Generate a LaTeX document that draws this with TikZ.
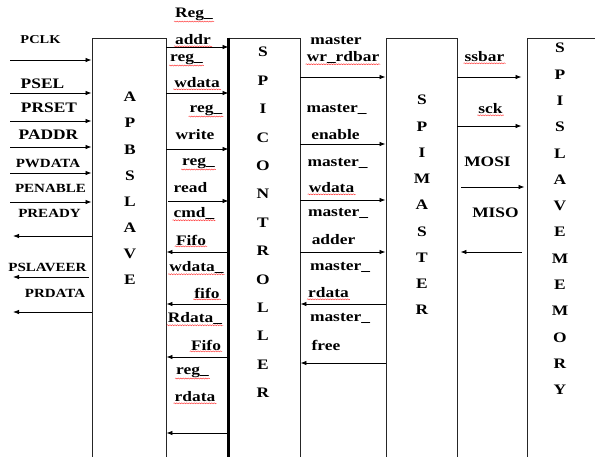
\documentclass[tikz,border=0pt]{standalone}
\usepackage{fontspec}
\setmainfont{Liberation Serif}[FakeStretch=1.2]
\usetikzlibrary{arrows.meta,positioning,decorations.pathmorphing}

\begin{document}
\begin{tikzpicture}[
  x=1pt, y=-1pt,
  blk/.style={draw=black!85, line width=0.9pt, minimum width=#1, minimum height=440pt, inner sep=0pt},
  vtxt/.style={align=center, inner sep=0pt, font={\fontsize{14.5}{#1}\selectfont\bfseries}},
  sigtxt/.style={inner sep=1pt, font={\fontsize{#1}{#1}\selectfont\bfseries}},
  sigtxt/.default=14.5,
  sig/.style={-{Latex[length=6pt,width=4.5pt]}, line width=0.8pt},
  squig/.style={draw=red!80, line width=0.45pt, decorate, decoration={snake, amplitude=0.5pt, segment length=2.5pt}},
  spl/.style={append after command={(\tikzlastnode.south west) edge[squig] (\tikzlastnode.south east)}}
]
  \useasboundingbox (0,0) rectangle (595,456);

  % blocks
  \node[blk=74pt] (apb) at (129,258) {};
  \node[blk=71pt] (ctl) at (264.5,258) {};
  \node[blk=71pt] (mst) at (421.5,258) {};
  \node[blk=70pt] (mem) at (562,258) {};
  \draw[line width=2.4pt] (ctl.north west) -- (ctl.south west);

  \node[vtxt=26.14] (apbname) at (130,188.5) {A\\P\\B\\S\\L\\A\\V\\E};
  \node[vtxt=28.4]  (ctlname) at (263,222.5) {S\\P\\I\\C\\O\\N\\T\\R\\O\\L\\L\\E\\R};
  \node[vtxt=26.25] (mstname) at (422,205)   {S\\P\\I\\M\\A\\S\\T\\E\\R};
  \node[vtxt=26.3]  (memname) at (560,219)   {S\\P\\I\\S\\L\\A\\V\\E\\M\\E\\M\\O\\R\\Y};

  % APB side
  \node[sigtxt=12]   (pclk-l)  at (40.5,40)  {PCLK};
  \node[sigtxt]      (psel-l)  at (42.5,84)  {PSEL};
  \node[sigtxt]      (prset-l) at (49,108)   {PRSET};
  \node[sigtxt]      (paddr-l) at (48.5,135) {PADDR};
  \node[sigtxt=12.5] (pwdata-l) at (48,163)  {PWDATA};
  \node[sigtxt=12.5] (penable-l) at (50.5,188) {PENABLE};
  \node[sigtxt=12.5] (pready-l) at (49.5,213) {PREADY};
  \node[sigtxt=12.5] (pslv-l)  at (47.5,267) {PSLAVEER};
  \node[sigtxt=12.5] (prdata-l) at (55,293)  {PRDATA};

  \coordinate (pclk)    at (10,60);
  \coordinate (psel)    at (10,93);
  \coordinate (prset)   at (10,121);
  \coordinate (paddr)   at (10,147);
  \coordinate (pwdata)  at (10,173);
  \coordinate (penable) at (10,202);
  \coordinate (pready)  at (13,236);
  \coordinate (pslv)    at (13,277);
  \coordinate (prdata)  at (13,312);

  \draw[sig] (pclk) -- (apb.west |- pclk);
  \draw[sig] (psel) -- (apb.west |- psel);
  \draw[sig] (prset) -- (apb.west |- prset);
  \draw[sig] (paddr) -- (apb.west |- paddr);
  \draw[sig] (pwdata) -- (apb.west |- pwdata);
  \draw[sig] (penable) -- (apb.west |- penable);
  \draw[sig] (apb.west |- pready) -- (pready);
  \draw[sig, shorten <=3pt] (apb.west |- pslv) -- (pslv);
  \draw[sig] (apb.west |- prdata) -- (prdata);

  % APB slave <-> SPI controller
  \node[sigtxt, spl] (regaddr-a) at (194,14)    {Reg\_};
  \node[sigtxt, spl] (regaddr-b) at (193,40)    {addr};
  \node[sigtxt, spl] (regwd-a)   at (186.5,59)  {reg\_};
  \node[sigtxt, spl] (regwd-b)   at (197,83)    {wdata};
  \node[sigtxt, spl] (regwr-a)   at (206,110)   {reg\_};
  \node[sigtxt]      (regwr-b)   at (195,135)   {write};
  \node[sigtxt, spl] (regrd-a)   at (198.5,163) {reg\_};
  \node[sigtxt]      (regrd-b)   at (190.5,188) {read};
  \node[sigtxt, spl] (cmdf-a)    at (194,213)   {cmd\_};
  \node[sigtxt, spl] (cmdf-b)    at (191,240)   {Fifo};
  \node[sigtxt, spl] (wdf-a)     at (196.5,267) {wdata\_};
  \node[sigtxt, spl] (wdf-b)     at (207,293)   {fifo};
  \node[sigtxt, spl] (rdf-a)     at (195,318)   {Rdata\_};
  \node[sigtxt, spl] (rdf-b)     at (206,345)   {Fifo};
  \node[sigtxt, spl] (regrdat-a) at (192.5,372) {reg\_};
  \node[sigtxt, spl] (regrdat-b) at (195,397)   {rdata};

  \draw[sig] (apb.east |- 0,47) -- (ctl.west |- 0,47);
  \draw[sig] (apb.east |- 0,93) -- (ctl.west |- 0,93);
  \draw[sig] (apb.east |- 0,149) -- (ctl.west |- 0,149);
  \draw[sig, shorten <=2pt] (apb.east |- 0,201) -- (ctl.west |- 0,201);
  \draw[sig] (ctl.west |- 0,252) -- (apb.east |- 0,252);
  \draw[sig] (ctl.west |- 0,304) -- (apb.east |- 0,304);
  \draw[sig] (ctl.west |- 0,357) -- (apb.east |- 0,357);
  \draw[sig] (ctl.west |- 0,433) -- (apb.east |- 0,433);

  % SPI controller <-> SPI master
  \node[sigtxt]      (mwr-a)  at (336,40)    {master};
  \node[sigtxt, spl] (mwr-b)  at (343,57)    {wr\_rdbar};
  \node[sigtxt]      (men-a)  at (336.5,109) {master\_};
  \node[sigtxt]      (men-b)  at (335.5,135) {enable};
  \node[sigtxt]      (mwd-a)  at (337.5,163) {master\_};
  \node[sigtxt, spl] (mwd-b)  at (331.5,188) {wdata};
  \node[sigtxt]      (mad-a)  at (338,213)   {master\_};
  \node[sigtxt]      (mad-b)  at (333.5,240) {adder};
  \node[sigtxt]      (mrd-a)  at (340,267)   {master\_};
  \node[sigtxt, spl] (mrd-b)  at (328.5,293) {rdata};
  \node[sigtxt]      (mfr-a)  at (340,318)   {master\_};
  \node[sigtxt]      (mfr-b)  at (326,345)   {free};

  \draw[sig] (ctl.east |- 0,77) -- (mst.west |- 0,77);
  \draw[sig] (ctl.east |- 0,144) -- (mst.west |- 0,144);
  \draw[sig] (ctl.east |- 0,200) -- (mst.west |- 0,200);
  \draw[sig] (ctl.east |- 0,252) -- (mst.west |- 0,252);
  \draw[sig] (mst.west |- 0,304) -- (ctl.east |- 0,304);
  \draw[sig] (mst.west |- 0,363) -- (ctl.east |- 0,363);

  % SPI master <-> slave memory
  \node[sigtxt, spl] (ssbar-l) at (484.5,57)  {ssbar};
  \node[sigtxt, spl] (sck-l)   at (490.5,109) {sck};
  \node[sigtxt]      (mosi-l)  at (487.5,162) {MOSI};
  \node[sigtxt]      (miso-l)  at (495.5,213) {MISO};

  \draw[sig, shorten >=5pt] (mst.east |- 0,77) -- (mem.west |- 0,77);
  \draw[sig, shorten >=5pt] (mst.east |- 0,126) -- (mem.west |- 0,126);
  \draw[sig, shorten <=4pt, shorten >=2pt] (mst.east |- 0,187) -- (mem.west |- 0,187);
  \draw[sig, shorten <=5pt, shorten >=3pt] (mem.west |- 0,252) -- (mst.east |- 0,252);
\end{tikzpicture}
\end{document}
